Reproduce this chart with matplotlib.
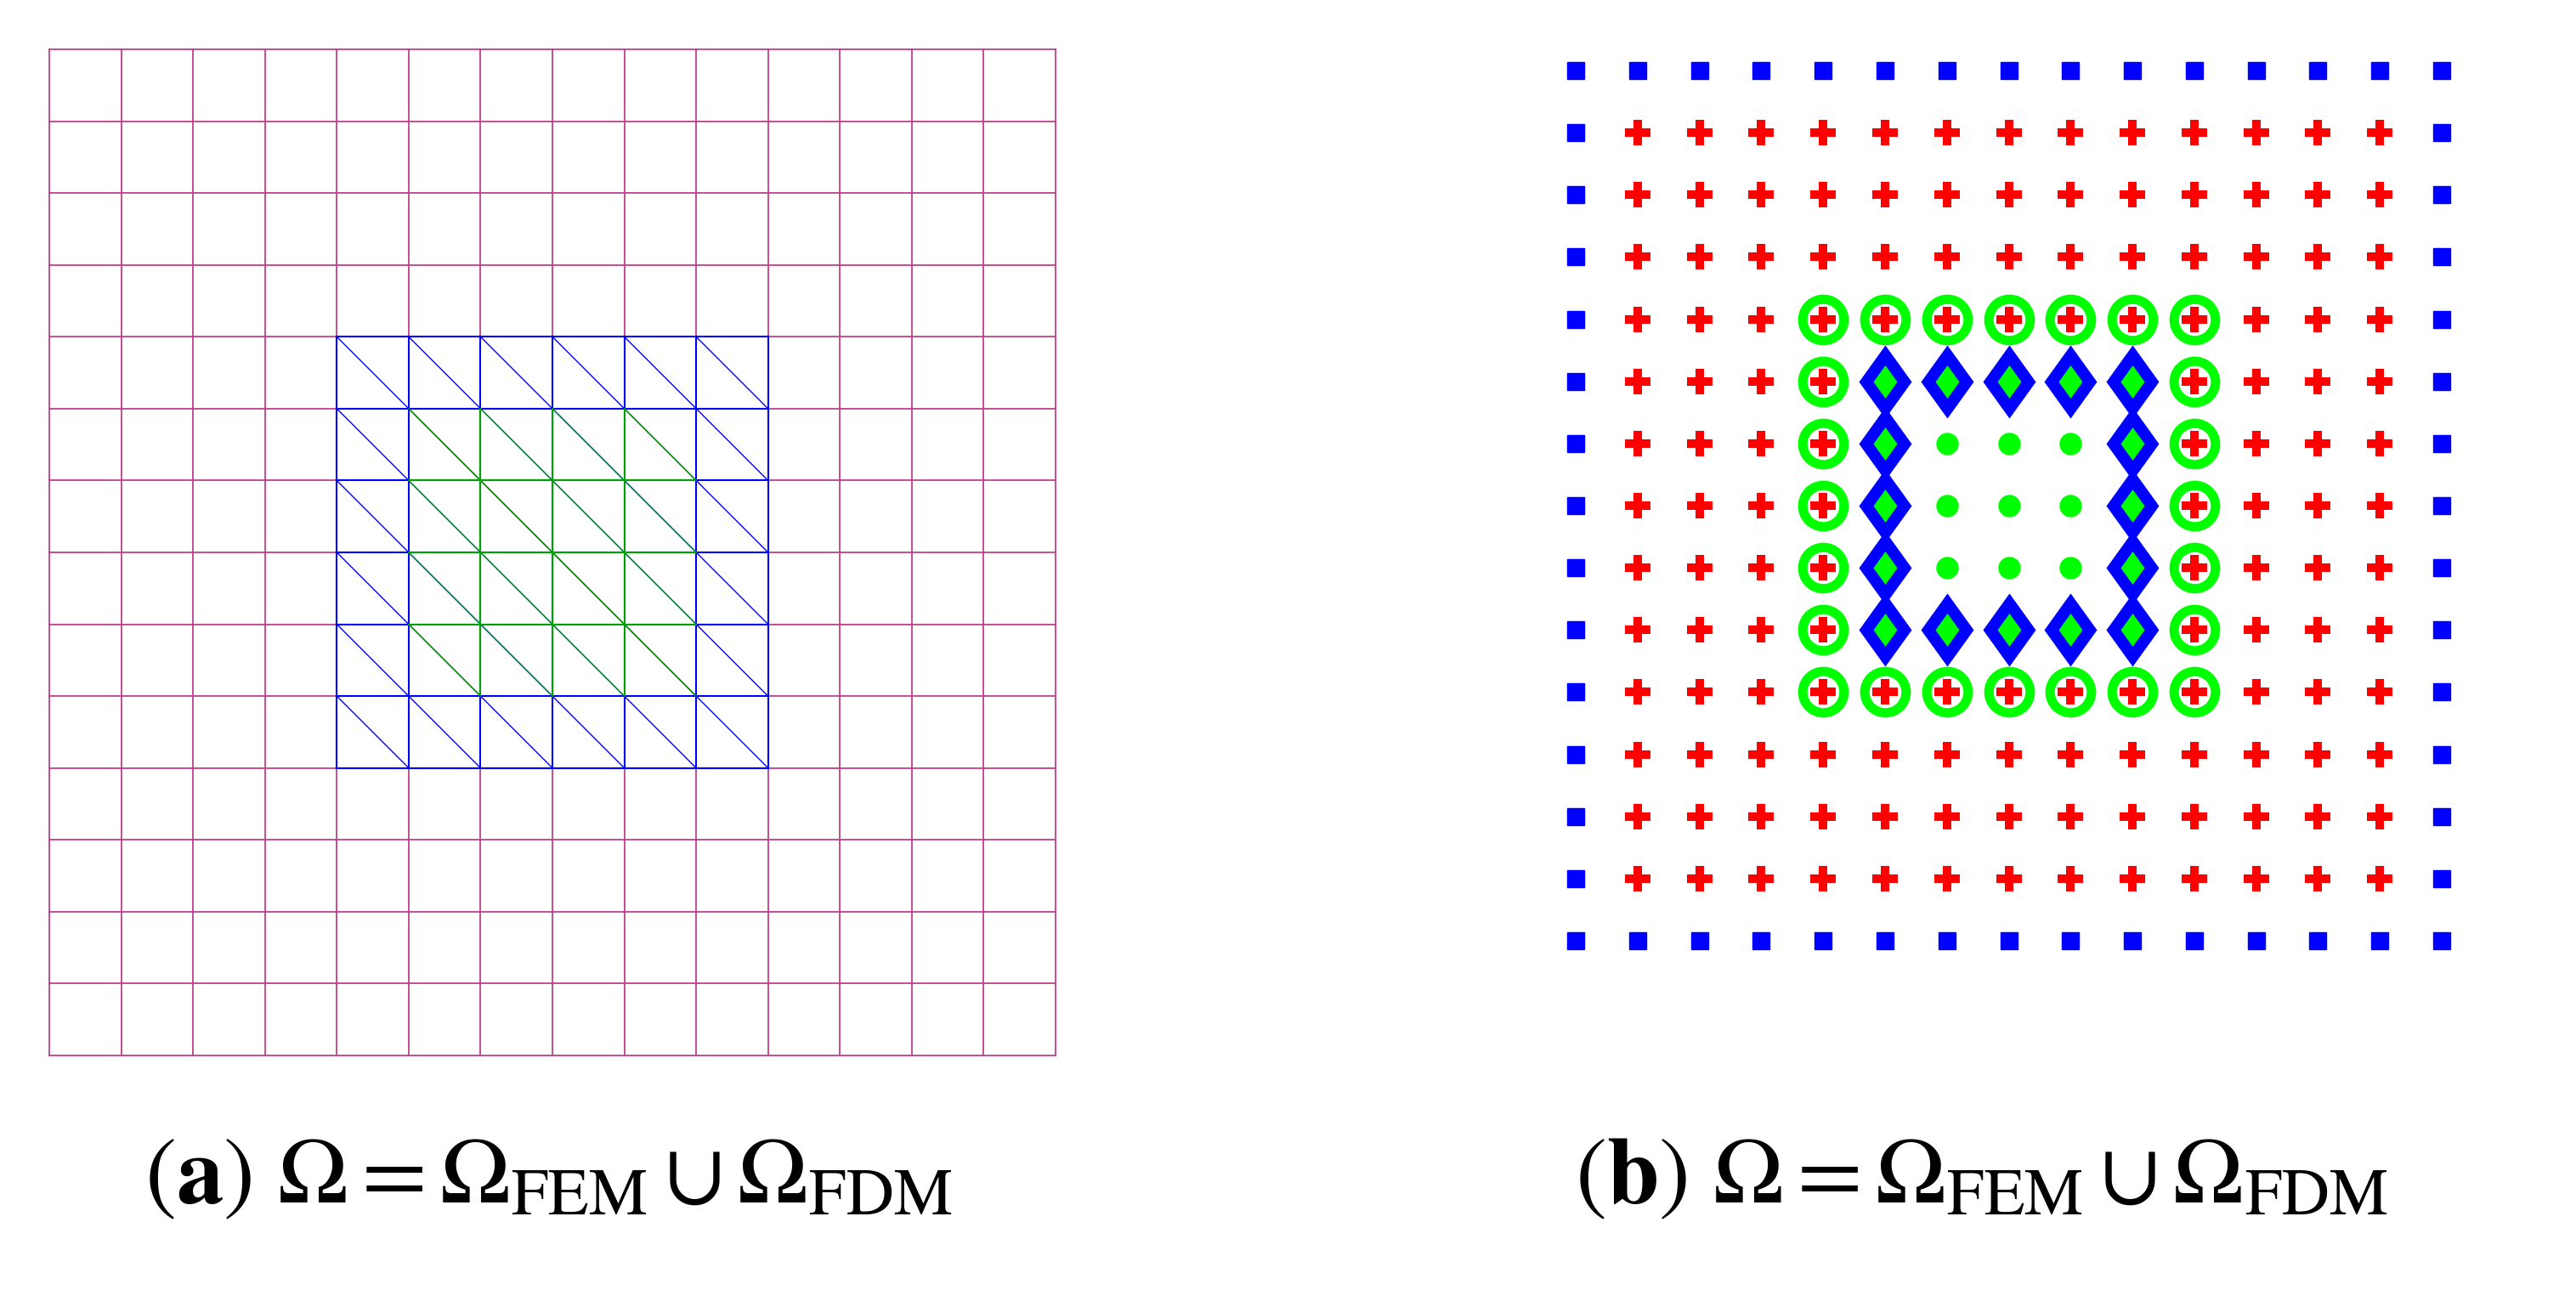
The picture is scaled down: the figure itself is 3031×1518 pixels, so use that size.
import numpy as np
import matplotlib.pyplot as plt
from matplotlib.path import Path

plt.rcParams['mathtext.fontset'] = 'stix'

# mesh / grid data
n_cells = 14            # outer FDM grid cells per side
fem_block = (4, 10)     # blue FEM block (cell index range)
green_block = (5, 9)    # inner green triangulated block
n_pts = 15              # FDM nodes per side
ring_circles = 4        # index of green-circle ring (4..10)
ring_diamonds = 5       # index of blue diamond ring (5..9)
inner_dots = (6, 8)     # inner green dots

pink = '#bf3f8f'
blue = '#0000ff'
green_line = '#00a000'
lime = '#00ff00'
red = '#ff0000'

diamond = Path([(0, 1), (0.72, 0), (0, -1), (-0.72, 0), (0, 1)], closed=True)

W, H = 3031, 1518
fig = plt.figure(figsize=(W / 100, H / 100), dpi=100)

# ---- (a) mesh
ax = fig.add_axes([58/W, 1 - 1242/H, 1184/W, 1184/H])
ax.set_xlim(0, n_cells); ax.set_ylim(0, n_cells); ax.axis('off')
for k in range(n_cells + 1):
	ax.plot([k, k], [0, n_cells], color=pink, lw=1.3, clip_on=False)
	ax.plot([0, n_cells], [k, k], color=pink, lw=1.3, clip_on=False)
a, b = fem_block
for k in range(a, b + 1):
	ax.plot([k, k], [a, b], color=blue, lw=1.5)
	ax.plot([a, b], [k, k], color=blue, lw=1.5)
for i in range(a, b):
	for j in range(a, b):
		ax.plot([i, i + 1], [j + 1, j], color=blue, lw=1.0)
c, d = green_block
for k in range(c + 1, d):
	ax.plot([k, k], [c, d], color=green_line, lw=1.5)
	ax.plot([c, d], [k, k], color=green_line, lw=1.5)
for i in range(c, d):
	for j in range(c, d):
		ax.plot([i, i + 1], [j + 1, j], color=green_line, lw=1.0)

# ---- (b) nodes
bx = fig.add_axes([1854/W, 1 - 1107/H, 1019/W, 1024/H])
bx.set_xlim(0, n_pts - 1); bx.set_ylim(0, n_pts - 1); bx.axis('off')
X, Y = np.meshgrid(np.arange(n_pts), np.arange(n_pts))
X = X.ravel(); Y = Y.ravel()
m = n_pts - 1
bnd = (X == 0) | (Y == 0) | (X == m) | (Y == m)
def ring(k):
	lo, hi = k, m - k
	inside = (X >= lo) & (X <= hi) & (Y >= lo) & (Y <= hi)
	return inside & ((X == lo) | (X == hi) | (Y == lo) | (Y == hi))
lo, hi = inner_dots
inner = (X >= lo) & (X <= hi) & (Y >= lo) & (Y <= hi)
kw = dict(linestyle='none', clip_on=False)
bx.plot(X[bnd], Y[bnd], 's', color=blue, ms=14, **kw)
bx.plot(X[ring(ring_circles)], Y[ring(ring_circles)], 'o', mfc='white', mec=lime, mew=8, ms=35, **kw)
redm = ~bnd & ~inner & ~ring(ring_diamonds)
bx.plot(X[redm], Y[redm], 'P', color=red, ms=21, mew=0, **kw)
bx.plot(X[ring(ring_diamonds)], Y[ring(ring_diamonds)], marker=diamond, color=blue, ms=62, mew=0, **kw)
bx.plot(X[ring(ring_diamonds)], Y[ring(ring_diamonds)], marker=diamond, color=lime, ms=28, mew=0, **kw)
bx.plot(X[inner], Y[inner], 'o', color=lime, ms=19, mew=0, **kw)

cap_a = r'$(\mathbf{a})\ \Omega = \Omega_{\mathrm{FEM}} \cup \Omega_{\mathrm{FDM}}$'
cap_b = r'$(\mathbf{b})\ \Omega = \Omega_{\mathrm{FEM}} \cup \Omega_{\mathrm{FDM}}$'
fig.text(645/W, 1 - 1385/H, cap_a, fontsize=80, ha='center', va='center')
fig.text(2331/W, 1 - 1385/H, cap_b, fontsize=80, ha='center', va='center')

fig.savefig('out.png', dpi=100)
